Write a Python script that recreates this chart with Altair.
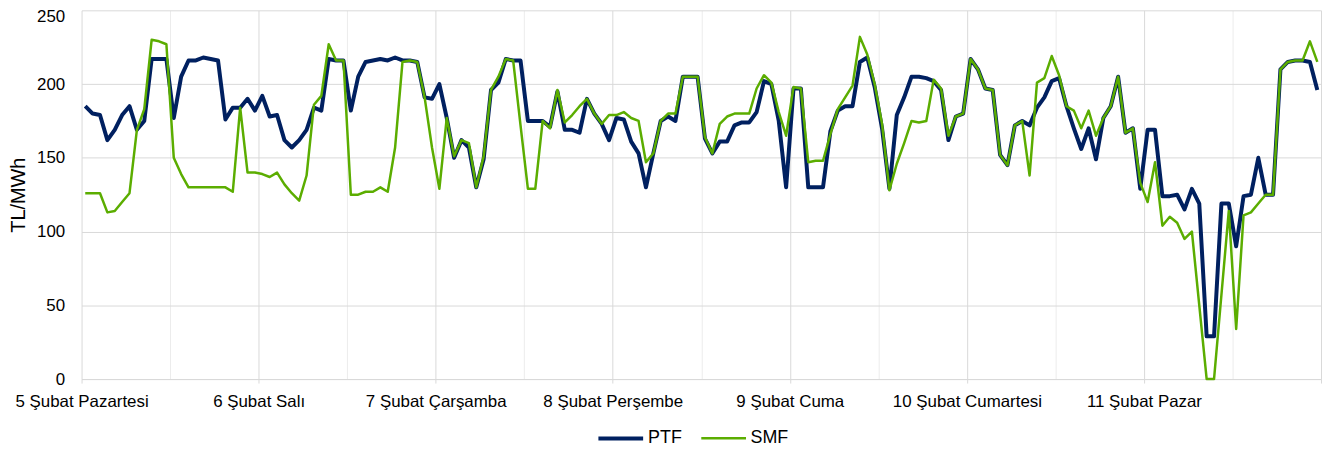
import altair as alt
import pandas as pd

days = ["5 Şubat Pazartesi", "6 Şubat Salı", "7 Şubat Çarşamba", "8 Şubat Perşembe",
        "9 Şubat Cuma", "10 Şubat Cumartesi", "11 Şubat Pazar"]

ptf = [
    185, 180, 179, 162, 169, 179, 185, 169, 175, 217, 217, 217, 177, 205, 216, 216, 218, 217, 216, 176, 184, 184, 190, 182,
    192, 178, 179, 162, 157, 162, 169, 184, 182, 217, 216, 216, 182, 205, 215, 216, 217, 216, 218, 216, 216, 215, 191, 190,
    200, 177, 150, 162, 157, 130, 149, 196, 201, 217, 216, 216, 175, 175, 175, 171, 195, 169, 169, 167, 190, 180, 173, 162,
    177, 176, 161, 153, 130, 153, 175, 178, 175, 205, 205, 205, 163, 153, 161, 161, 172, 174, 174, 181, 202, 200, 175, 130,
    197, 197, 130, 130, 130, 168, 182, 185, 185, 215, 218, 198, 170, 129, 179, 191, 205, 205, 204, 202, 196, 162, 178, 180,
    217, 210, 197, 196, 152, 145, 172, 175, 172, 184, 191, 202, 204, 185, 170, 156, 170, 149, 177, 185, 205, 167, 170, 129,
    169, 169, 124, 124, 125, 115, 129, 119, 29, 29, 119, 119, 90, 124, 125, 150, 125, 125, 210, 215, 216, 216, 215, 196,
]

smf = [
    126, 126, 126, 113, 114, 120, 126, 169, 183, 230, 229, 227, 150, 139, 130, 130, 130, 130, 130, 130, 127, 184, 140, 140,
    139, 137, 140, 132, 126, 121, 138, 186, 192, 227, 216, 216, 125, 125, 127, 127, 130, 127, 157, 215, 216, 215, 191, 157,
    129, 177, 151, 162, 160, 130, 151, 196, 205, 217, 216, 172, 129, 129, 175, 170, 196, 174, 179, 185, 190, 180, 173, 179,
    179, 181, 177, 175, 147, 153, 175, 180, 180, 205, 205, 205, 164, 153, 173, 178, 180, 180, 180, 197, 206, 201, 181, 165,
    198, 197, 147, 148, 148, 166, 183, 191, 199, 232, 220, 200, 173, 128, 146, 160, 175, 174, 175, 203, 197, 165, 178, 180,
    217, 210, 197, 196, 152, 145, 172, 175, 138, 201, 204, 219, 206, 185, 182, 170, 182, 165, 177, 185, 205, 167, 170, 133,
    120, 147, 104, 110, 106, 95, 100, 50, 0, 0, 57, 114, 34, 111, 113, 119, 125, 125, 210, 215, 216, 216, 229, 215,
]

series_names = ["PTF", "SMF"]
series_colors = ["#002060", "#5BAD00"]
series_widths = [4, 2.5]

rows = []
for name, vals in zip(series_names, [ptf, smf]):
    for i, v in enumerate(vals):
        rows.append({"saat": i + 0.5, "deger": v, "seri": name, "sira": i})
df = pd.DataFrame(rows)

FONT = "Liberation Sans"
day_list = "[" + ",".join("'" + d + "'" for d in days) + "]"
label_expr = f"datum.value % 24 === 0 && datum.value < 168 ? {day_list}[datum.value / 24] : ''"

x_axis = alt.Axis(
    values=list(range(0, 169, 12)),
    labelExpr=label_expr,
    grid=True,
    gridColor={"condition": {"test": "datum.value % 24 === 0", "value": "#d9d9d9"}, "value": "#ececec"},
    gridWidth=1,
    ticks=True,
    tickSize=4,
    tickColor="#d9d9d9",
    tickOpacity={"condition": {"test": "datum.value % 24 === 0", "value": 1}, "value": 0},
    domain=True,
    domainColor="#d9d9d9",
    labelFont=FONT,
    labelFontSize=17,
    labelColor="#000000",
    labelPadding=11,
    labelFlush=False,
    labelOverlap=False,
    title=None,
)

y_axis = alt.Axis(
    values=[0, 50, 100, 150, 200, 250],
    grid=True,
    gridColor="#d9d9d9",
    domain=False,
    ticks=False,
    labelFont=FONT,
    labelFontSize=17,
    labelColor="#000000",
    labelPadding=17,
    labelOffset={"condition": {"test": "datum.value === 250", "value": 6}, "value": 0},
    title="TL/MWh",
    titleFont=FONT,
    titleFontSize=20,
    titleFontWeight="normal",
    titleColor="#000000",
    titlePadding=8,
)

legend = alt.Legend(
    title=None,
    orient="none",
    direction="horizontal",
    legendX=518,
    legendY=406,
    symbolType="stroke",
    symbolSize=2025,
    labelFont=FONT,
    labelFontSize=18,
    labelColor="#000000",
    labelOffset=3,
    columnPadding=14,
    padding=0,
)

chart = alt.Chart(df).mark_line(strokeJoin="round", strokeCap="butt").encode(
    x=alt.X("saat:Q", scale=alt.Scale(domain=[0, 168], nice=False, zero=False), axis=x_axis),
    y=alt.Y("deger:Q", scale=alt.Scale(domain=[0, 250], nice=False), axis=y_axis),
    color=alt.Color("seri:N", scale=alt.Scale(domain=series_names, range=series_colors), legend=legend),
    strokeWidth=alt.StrokeWidth("seri:N", scale=alt.Scale(domain=series_names, range=series_widths), legend=legend),
    order=alt.Order("sira:Q"),
).properties(
    width=1247,
    height=371,
    autosize=alt.AutoSizeParams(type="none"),
    padding={"left": 74, "top": 1, "right": 2, "bottom": 66},
).configure_view(stroke=None)

chart.save("out.html", embed_options={"renderer": "svg", "actions": False})
